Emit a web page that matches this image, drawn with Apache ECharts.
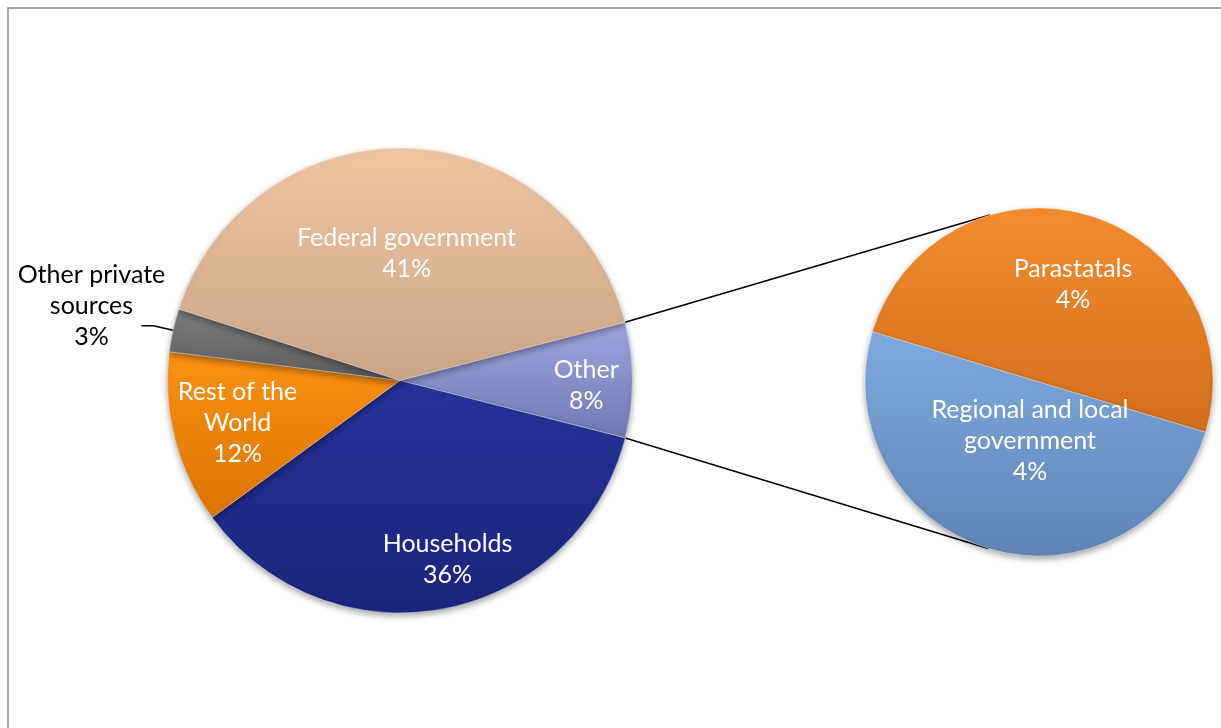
<!DOCTYPE html>
<html>
<head>
<meta charset="utf-8">
<script src="https://cdn.jsdelivr.net/npm/echarts@6/dist/echarts.min.js"></script>
<style>
  html, body { margin: 0; padding: 0; background: #ffffff; }
  #chart { width: 1221px; height: 728px; }
</style>
</head>
<body>
<div id="chart"></div>
<script>
// Funding sources (percent of total); "Other" is broken down in the secondary pie
const mainCategories = ['Other', 'Households', 'Rest of the\nWorld', 'Other private\nsources', 'Federal government'];
const mainValues = [8, 36, 12, 3, 41];
const detailCategories = ['Parastatals', 'Regional and local\ngovernment'];
const detailValues = [4, 4];

// ---- styling / layout ----
const FONT = 'Lato, "Open Sans", sans-serif';
const mainCenter = [400, 380.5], mainRadius = 232.5, mainStart = 14.5;
const detailCenter = [1039, 382], detailRadius = 174, detailStart = 163.2;

const mainShades = [
  ['#A0A6DE', '#7077B2'],   // Other
  ['#26339A', '#1B237B'],   // Households
  ['#FA9214', '#DC7300'],   // Rest of the World
  ['#7C7C7C', '#5C5C5C'],   // Other private sources
  ['#F0C6A1', '#C9A487']    // Federal government
];
const detailShades = [
  ['#F48D2E', '#D26D1C'],   // Parastatals
  ['#80ABE0', '#5E83B4']    // Regional and local government
];
// nudges applied to the inside labels
const mainLabelShift = [[67, 5], [25, 62], [-47, 13], null, [3, -8]];
const detailLabelShift = [[8, -11], [17, -27]];

function shade(pair) {
  return new echarts.graphic.LinearGradient(0, 0, 0, 1, [
    { offset: 0, color: pair[0] },
    { offset: 1, color: pair[1] }
  ]);
}

const sliceStyle = {
  borderColor: 'rgba(255,255,255,0.35)',
  borderWidth: 1,
  shadowBlur: 6,
  shadowOffsetY: 3,
  shadowColor: 'rgba(0,0,0,0.35)'
};

const insideLabel = {
  show: true,
  position: 'inside',
  color: '#ffffff',
  fontFamily: FONT,
  fontSize: 25,
  lineHeight: 31,
  formatter: '{b}\n{c}%'
};

function outsideLabel(name, value) {
  const lines = name.split('\n').concat([value + '%']);
  return {
    show: true,
    position: 'outside',
    alignTo: 'none',
    padding: [0, 0, 40, 0],
    formatter: lines.map(s => '{t|' + s + '}').join('\n'),
    rich: {
      t: { width: 90, align: 'center', color: '#000000', fontFamily: FONT, fontSize: 25, lineHeight: 31 }
    }
  };
}

const mainData = mainCategories.map((name, i) => {
  const item = {
    name: name,
    value: mainValues[i],
    itemStyle: Object.assign({ color: shade(mainShades[i]) }, sliceStyle)
  };
  if (i === 3) {
    item.label = outsideLabel(name, mainValues[i]);
    item.labelLine = { show: true, length: 20, length2: 12, lineStyle: { color: '#000000', width: 1.5 } };
  }
  return item;
});

const detailData = detailCategories.map((name, i) => ({
  name: name,
  value: detailValues[i],
  itemStyle: Object.assign({ color: shade(detailShades[i]) }, sliceStyle)
}));

// connector lines: from the edges of the "Other" slice, tangent to the secondary pie
function rad(deg) { return deg * Math.PI / 180; }
function edgePoint(c, r, deg) { return [c[0] + r * Math.cos(rad(deg)), c[1] - r * Math.sin(rad(deg))]; }
function tangentPoint(p, c, r, upper) {
  const dx = p[0] - c[0], dy = p[1] - c[1];
  const d = Math.hypot(dx, dy);
  const base = Math.atan2(dy, dx);
  const a = Math.acos(r / d);
  const cands = [base + a, base - a].map(t => [c[0] + r * Math.cos(t), c[1] + r * Math.sin(t)]);
  cands.sort((u, v) => u[1] - v[1]);
  return upper ? cands[0] : cands[1];
}
const mainTotal = mainValues.reduce((s, v) => s + v, 0);
const otherSpan = 360 * mainValues[0] / mainTotal;
const pTop = edgePoint(mainCenter, mainRadius, mainStart);
const pBottom = edgePoint(mainCenter, mainRadius, mainStart - otherSpan);
const tTop = tangentPoint(pTop, detailCenter, detailRadius, true);
const tBottom = tangentPoint(pBottom, detailCenter, detailRadius, false);

function shiftLayout(shifts) {
  return function (params) {
    const s = shifts[params.dataIndex];
    return s ? { dx: s[0], dy: s[1] } : {};
  };
}

const chart = echarts.init(document.getElementById('chart'), null, { renderer: 'canvas' });
chart.setOption({
  backgroundColor: '#ffffff',
  animation: false,
  graphic: [
    {
      type: 'rect', silent: true, z: -10,
      shape: { x: 8, y: 8, width: 1240, height: 760 },
      style: { fill: 'none', stroke: '#8a8a8a', lineWidth: 1.5 }
    },
    {
      type: 'line', silent: true, z: 1,
      shape: { x1: pTop[0], y1: pTop[1], x2: tTop[0], y2: tTop[1] },
      style: { stroke: '#000000', lineWidth: 1.5 }
    },
    {
      type: 'line', silent: true, z: 1,
      shape: { x1: pBottom[0], y1: pBottom[1], x2: tBottom[0], y2: tBottom[1] },
      style: { stroke: '#000000', lineWidth: 1.5 }
    }
  ],
  series: [
    {
      type: 'pie',
      center: mainCenter,
      radius: mainRadius,
      startAngle: mainStart,
      clockwise: true,
      avoidLabelOverlap: false,
      silent: true,
      label: insideLabel,
      labelLine: { show: false },
      labelLayout: shiftLayout(mainLabelShift),
      emphasis: { disabled: true },
      data: mainData,
      z: 2
    },
    {
      type: 'pie',
      center: detailCenter,
      radius: detailRadius,
      startAngle: detailStart,
      clockwise: true,
      avoidLabelOverlap: false,
      silent: true,
      label: insideLabel,
      labelLine: { show: false },
      labelLayout: shiftLayout(detailLabelShift),
      emphasis: { disabled: true },
      data: detailData,
      z: 2
    }
  ]
});
</script>
</body>
</html>
